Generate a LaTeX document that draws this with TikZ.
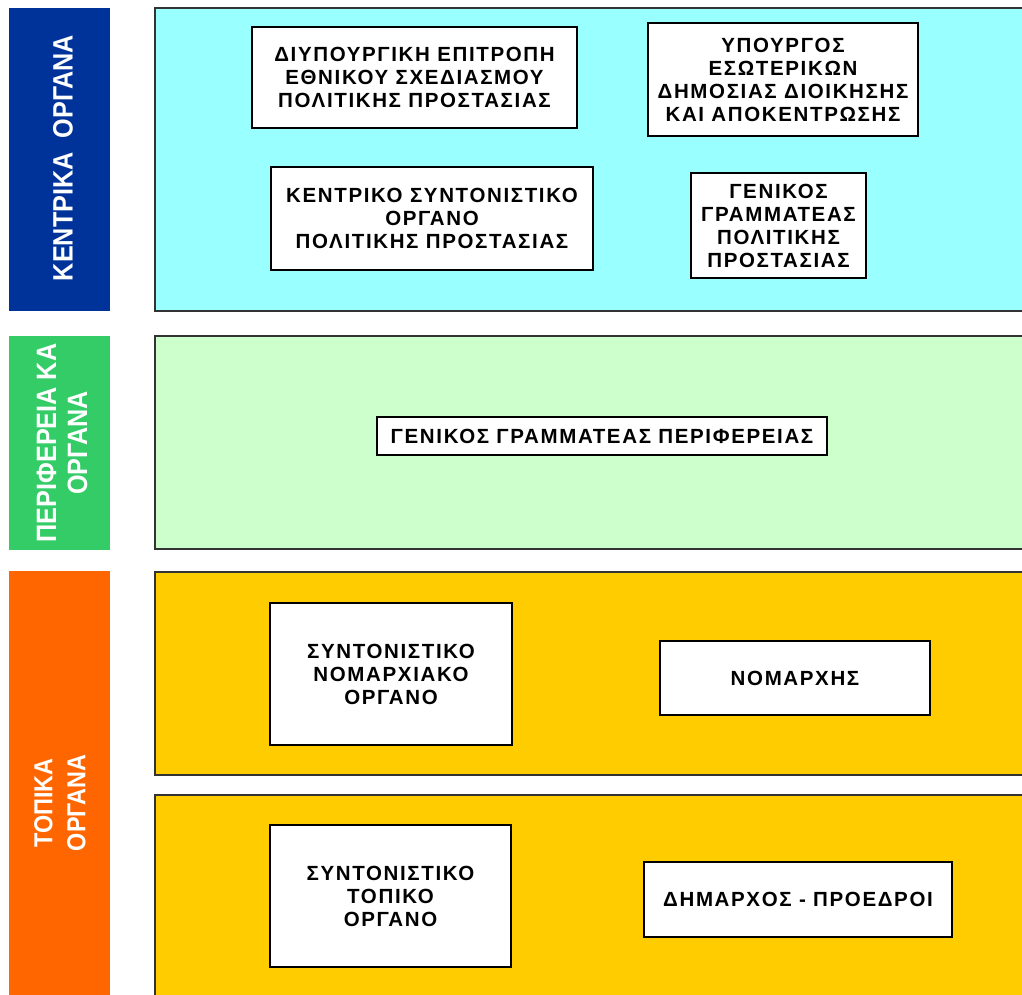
\documentclass[tikz,border=0pt]{standalone}
\usepackage{fontspec}
\setmainfont{Liberation Sans}
\newfontfamily\boxf[LetterSpace=8]{Liberation Sans}
\newfontfamily\labf[FakeStretch=0.9]{Liberation Sans}
\definecolor{cblue}{HTML}{003399}
\definecolor{cgreen}{HTML}{33CC66}
\definecolor{corange}{HTML}{FF6600}
\definecolor{pcyan}{HTML}{99FFFF}
\definecolor{pgreen}{HTML}{CCFFCC}
\definecolor{pyellow}{HTML}{FFCC00}
\tikzset{
  panel/.style={draw=black!80, line width=1.8pt},
  ibox/.style={draw=black, line width=1.6pt, fill=white, align=center, inner sep=0pt,
    font={\boxf\bfseries\fontsize{20.5}{23}\selectfont}},
  lab/.style={rotate=90, text=white, align=center, inner sep=0pt,
    font={\labf\bfseries\fontsize{28}{31}\selectfont}}
}
\begin{document}
\begin{tikzpicture}[x=1pt,y=-1pt]
\useasboundingbox (0,0) rectangle (1022,994);
\clip (0,0) rectangle (1022,994);
\fill[white] (0,0) rectangle (1022,994);
% left bars
\fill[cblue] (9,8) rectangle (110,311);
\fill[cgreen] (9,336) rectangle (110,550);
\fill[corange] (9,571) rectangle (110,1000);
\node[lab] (lk) at (63,158) {ΚΕΝΤΡΙΚΑ\ \ ΟΡΓΑΝΑ};
\node[lab] (lp) at (62,443) {ΠΕΡΙΦΕΡΕΙΑ ΚΑ\\ΟΡΓΑΝΑ};
\node[lab, font={\labf\bfseries\fontsize{26}{33}\selectfont}] (lt) at (60,803) {ΤΟΠΙΚΑ\\ΟΡΓΑΝΑ};
% panels
\draw[panel, fill=pcyan] (155,8) rectangle (1030,311);
\draw[panel, fill=pgreen] (155,336) rectangle (1030,549);
\draw[panel, fill=pyellow] (155,572) rectangle (1030,775);
\draw[panel, fill=pyellow] (155,795) rectangle (1030,1010);
% boxes
\node[ibox, minimum width=325pt, minimum height=101pt] (b1) at (414.5,77.5)
  {ΔΙΥΠΟΥΡΓΙΚΗ ΕΠΙΤΡΟΠΗ\\ΕΘΝΙΚΟΥ ΣΧΕΔΙΑΣΜΟΥ\\ΠΟΛΙΤΙΚΗΣ ΠΡΟΣΤΑΣΙΑΣ};
\node[ibox, minimum width=322pt, minimum height=103pt] (b2) at (432,218.5)
  {ΚΕΝΤΡΙΚΟ ΣΥΝΤΟΝΙΣΤΙΚΟ\\ΟΡΓΑΝΟ\\ΠΟΛΙΤΙΚΗΣ ΠΡΟΣΤΑΣΙΑΣ};
\node[ibox, minimum width=270pt, minimum height=113pt] (b3) at (783,79.5)
  {ΥΠΟΥΡΓΟΣ\\ΕΣΩΤΕΡΙΚΩΝ\\ΔΗΜΟΣΙΑΣ ΔΙΟΙΚΗΣΗΣ\\ΚΑΙ ΑΠΟΚΕΝΤΡΩΣΗΣ};
\node[ibox, minimum width=175pt, minimum height=105pt] (b4) at (778.5,225.5)
  {ΓΕΝΙΚΟΣ\\ΓΡΑΜΜΑΤΕΑΣ\\ΠΟΛΙΤΙΚΗΣ\\ΠΡΟΣΤΑΣΙΑΣ};
\node[ibox, minimum width=450pt, minimum height=38pt] (b5) at (602,436)
  {ΓΕΝΙΚΟΣ ΓΡΑΜΜΑΤΕΑΣ ΠΕΡΙΦΕΡΕΙΑΣ};
\node[ibox, minimum width=242pt, minimum height=142pt] (b6) at (391,674)
  {ΣΥΝΤΟΝΙΣΤΙΚΟ\\ΝΟΜΑΡΧΙΑΚΟ\\ΟΡΓΑΝΟ};
\node[ibox, minimum width=270pt, minimum height=74pt] (b7) at (795,678)
  {ΝΟΜΑΡΧΗΣ};
\node[ibox, minimum width=241pt, minimum height=142pt] (b8) at (390.5,896)
  {ΣΥΝΤΟΝΙΣΤΙΚΟ\\ΤΟΠΙΚΟ\\ΟΡΓΑΝΟ};
\node[ibox, minimum width=308pt, minimum height=75pt] (b9) at (798,899.5)
  {ΔΗΜΑΡΧΟΣ - ΠΡΟΕΔΡΟΙ};
\end{tikzpicture}
\end{document}
